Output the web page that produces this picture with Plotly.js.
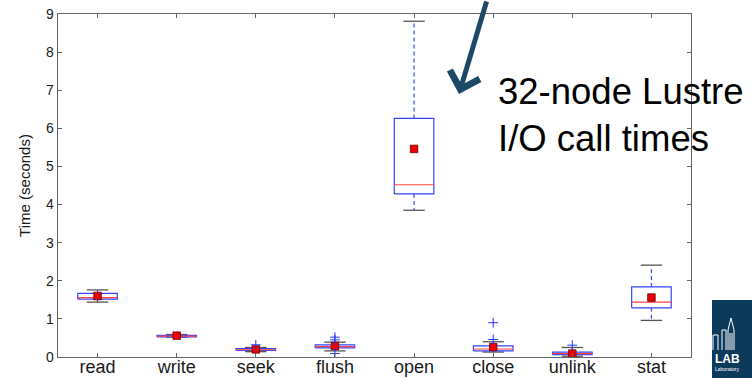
<!DOCTYPE html>
<html>
<head>
<meta charset="utf-8">
<script src="https://cdn.plot.ly/plotly-3.0.1.min.js"></script>
<style>
  html, body { margin: 0; padding: 0; background: #ffffff; }
  #chart { width: 752px; height: 378px; }
</style>
</head>
<body>
<div id="chart"></div>
<script>
// I/O call times per operation (seconds), 32-node Lustre run
const categories   = ['read', 'write', 'seek', 'flush', 'open', 'close', 'unlink', 'stat'];
const lowerWhisker = [1.44, 0.52, 0.14, 0.16, 3.85, 0.13, 0.02, 0.96];
const quartile1    = [1.52, 0.53, 0.17, 0.24, 4.28, 0.16, 0.06, 1.29];
const medians      = [1.56, 0.55, 0.19, 0.27, 4.52, 0.21, 0.09, 1.44];
const quartile3    = [1.67, 0.57, 0.22, 0.32, 6.26, 0.29, 0.13, 1.84];
const upperWhisker = [1.76, 0.59, 0.25, 0.39, 8.81, 0.40, 0.25, 2.41];
const means        = [1.60, 0.56, 0.20, 0.29, 5.46, 0.26, 0.09, 1.56];

// individual outlying calls
const outlierCategory = ['seek', 'flush', 'flush', 'flush', 'close', 'close', 'unlink'];
const outlierValue    = [0.32, 0.45, 0.52, 0.09, 0.46, 0.90, 0.31];

const yTicks = [0, 1, 2, 3, 4, 5, 6, 7, 8, 9];

// geometry of the glyphs, in category units
const BOX_HALF = 0.25;
const CAP_HALF = 0.135;

const boxX = [], boxY = [], medX = [], medY = [];
const whiskX = [], whiskY = [], capX = [], capY = [];
categories.forEach((c, i) => {
  boxX.push(i - BOX_HALF, i + BOX_HALF, i + BOX_HALF, i - BOX_HALF, i - BOX_HALF, null);
  boxY.push(quartile1[i], quartile1[i], quartile3[i], quartile3[i], quartile1[i], null);
  medX.push(i - BOX_HALF, i + BOX_HALF, null);
  medY.push(medians[i], medians[i], null);
  whiskX.push(i, i, null, i, i, null);
  whiskY.push(quartile3[i], upperWhisker[i], null, quartile1[i], lowerWhisker[i], null);
  capX.push(i - CAP_HALF, i + CAP_HALF, null, i - CAP_HALF, i + CAP_HALF, null);
  capY.push(upperWhisker[i], upperWhisker[i], null, lowerWhisker[i], lowerWhisker[i], null);
});

const traces = [
  { x: whiskX, y: whiskY, mode: 'lines', line: { color: '#3a4cff', width: 1.2, dash: '4px,3px' } },
  { x: capX, y: capY, mode: 'lines', line: { color: '#555555', width: 1.3 } },
  { x: boxX, y: boxY, mode: 'lines', line: { color: '#3344ff', width: 1.2 } },
  { x: medX, y: medY, mode: 'lines', line: { color: '#ff4040', width: 1.2 } },
  { x: categories.map((c, i) => i), y: means, mode: 'markers',
    marker: { symbol: 'square', size: 7.5, color: '#ee0000', line: { color: '#660000', width: 0.8 } } },
  { x: outlierCategory.map(c => categories.indexOf(c)), y: outlierValue, mode: 'markers',
    marker: { symbol: 'cross-thin-open', size: 7, color: '#2233ff', line: { color: '#2233ff', width: 1 } } }
];

// plot-area pixel → paper helpers for the decorations outside the data
const PL = 58, PR = 691, PT = 14, PB = 357;
const px = v => (v - PL) / (PR - PL);
const py = v => (PB - v) / (PB - PT);

const logoColor = '#0c3a5a';
const towerPath = [
  'M', px(722), py(350), 'L', px(722), py(330), 'L', px(726), py(330),
  'L', px(726), py(350),
  'M', px(728), py(350), 'L', px(728), py(330), 'L', px(731), py(318),
  'L', px(734), py(330), 'L', px(734), py(350),
  'M', px(730), py(350), 'L', px(730), py(333),
  'M', px(732), py(350), 'L', px(732), py(333),
  'M', px(713), py(350), 'L', px(713), py(335), 'L', px(718), py(335), 'L', px(718), py(350)
].join(' ').replace(/ ([\d.-]+) ([\d.-]+)/g, ' $1,$2');

const layout = {
  width: 752,
  height: 378,
  margin: { l: PL, r: 752 - PR, t: PT, b: 378 - PB, pad: 0 },
  paper_bgcolor: '#ffffff',
  plot_bgcolor: '#ffffff',
  showlegend: false,
  hovermode: false,
  font: { family: 'Liberation Sans, Arial, sans-serif', color: '#1a1a1a' },
  xaxis: {
    range: [-0.5, 7.5],
    tickmode: 'array',
    tickvals: categories.map((c, i) => i),
    ticktext: categories,
    ticks: 'inside', ticklen: 4, tickwidth: 1, tickcolor: '#666666',
    showline: true, linecolor: '#666666', linewidth: 1.3, mirror: 'ticks',
    showgrid: false, zeroline: false,
    ticklabelstandoff: -7,
    tickfont: { size: 18, color: '#1a1a1a' }
  },
  yaxis: {
    range: [0, 9],
    tickmode: 'array',
    tickvals: yTicks,
    ticktext: yTicks.map(String),
    ticks: 'inside', ticklen: 4, tickwidth: 1, tickcolor: '#666666',
    showline: true, linecolor: '#666666', linewidth: 1.3, mirror: 'ticks',
    showgrid: false, zeroline: false,
    tickfont: { size: 14, color: '#1a1a1a' },
    title: { text: 'Time (seconds)', font: { size: 15, color: '#1a1a1a' }, standoff: 12 }
  },
  shapes: [
    { type: 'rect', xref: 'paper', yref: 'paper', x0: px(712), x1: px(760), y0: py(300), y1: py(385),
      fillcolor: logoColor, line: { width: 0 }, layer: 'above' },
    { type: 'path', xref: 'paper', yref: 'paper', path: towerPath,
      line: { color: '#ffffff', width: 1 }, layer: 'above' }
  ],
  annotations: [
    { xref: 'paper', yref: 'paper', x: px(459), y: py(94), ax: 28, ay: -102,
      text: '', showarrow: true, arrowhead: 4, arrowsize: 1.2, arrowwidth: 5,
      arrowcolor: '#1c4a66' },
    { xref: 'paper', yref: 'paper', x: px(496), y: py(115), xanchor: 'left', yanchor: 'middle',
      align: 'left', showarrow: false,
      text: '32-node Lustre<br>I/O call times',
      font: { size: 36.5, color: '#000000', family: 'Liberation Sans, Arial, sans-serif' } },
    { xref: 'paper', yref: 'paper', x: px(713), y: py(359), xanchor: 'left', yanchor: 'middle',
      showarrow: false, text: '<b>LAB</b>',
      font: { size: 12, color: '#ffffff', family: 'Liberation Sans, Arial, sans-serif' } },
    { xref: 'paper', yref: 'paper', x: px(713), y: py(369), xanchor: 'left', yanchor: 'middle',
      showarrow: false, text: 'Laboratory',
      font: { size: 5, color: '#ffffff', family: 'Liberation Sans, Arial, sans-serif' } }
  ]
};

Plotly.newPlot('chart', traces, layout, { displayModeBar: false, staticPlot: true });
</script>
</body>
</html>
